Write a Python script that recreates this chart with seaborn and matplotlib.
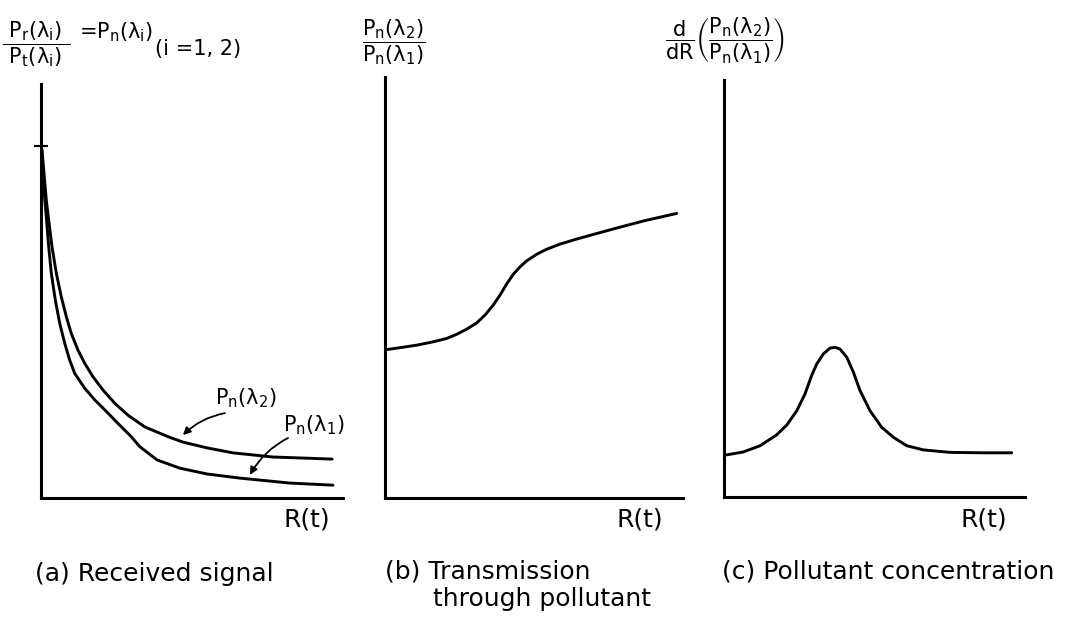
import numpy as np
import matplotlib
matplotlib.use("Agg")
import matplotlib.pyplot as plt
import seaborn as sns

# ==========================================
# DATA (axis units 0..100)
# ==========================================
# (a) received signal
a_x_l2 = [0, 0.33, 0.99, 1.75, 2.55, 3.64, 5.07, 6.72, 8.38, 10.0, 12.25, 14.5, 17.2, 20.5, 24.4, 28.8,
          34.3, 42.1, 47.0, 55.0, 63.6, 76.8, 96.4]
a_y_l2 = [85.0, 84.1, 78.4, 72.0, 67.1, 60.7, 54.3, 48.6, 43.8, 39.8, 35.7, 32.5, 29.3, 26.1, 22.9, 20.0,
          17.2, 14.8, 13.5, 12.1, 10.9, 9.9, 9.4]
a_x_l1 = [0, 0.33, 0.99, 1.75, 2.55, 3.41, 4.74, 6.19, 7.85, 9.5, 11.16, 12.25, 14.5, 17.8, 21.1, 25.5,
          29.9, 32.7, 38.4, 46.0, 55.0, 65.9, 82.5, 96.7]
a_y_l1 = [85.0, 83.3, 74.4, 67.9, 60.7, 54.3, 47.8, 42.2, 37.4, 33.3, 30.1, 28.9, 26.5, 23.7, 21.3, 18.0,
          14.8, 12.4, 9.2, 7.2, 5.8, 4.8, 3.6, 3.1]

# (b) transmission through pollutant
b_x = [0, 5.0, 10.6, 16.2, 20.7, 24.1, 27.4, 30.8, 33.6, 36.3, 38.6, 40.8, 43.0, 45.3, 47.5, 50.9,
       54.3, 58.7, 64.3, 69.9, 76.6, 86.7, 97.9]
b_y = [35.2, 35.7, 36.3, 37.1, 37.9, 38.9, 40.1, 41.6, 43.5, 45.8, 48.2, 50.8, 53.1, 54.9, 56.3, 57.9,
       59.1, 60.3, 61.5, 62.6, 63.9, 65.8, 67.6]

# (c) pollutant concentration
c_x = [0.9, 6.4, 12.0, 17.5, 20.9, 24.2, 26.9, 29.1, 30.8, 33.0, 35.2, 36.9, 38.5, 40.8, 43.0, 45.2,
       48.5, 52.4, 56.3, 60.7, 66.2, 75.1, 86.1, 95.6]
c_y = [10.1, 10.8, 12.3, 14.9, 17.3, 20.7, 24.7, 29.1, 31.9, 34.3, 35.7, 35.9, 35.5, 33.5, 29.9, 25.5,
       20.7, 16.7, 14.3, 12.3, 11.3, 10.7, 10.6, 10.6]

captions = ["(a) Received signal", "(b) Transmission\n      through pollutant", "(c) Pollutant concentration"]

# ==========================================
# FIGURE
# ==========================================
sns.set_style("white")
plt.rcParams['font.family'] = ['DejaVu Sans']
plt.rcParams['text.color'] = 'black'
plt.rcParams['mathtext.fontset'] = 'dejavusans'
plt.rcParams['mathtext.default'] = 'regular'

W, H = 1075, 624
fig = plt.figure(figsize=(W / 100, H / 100), dpi=100)


def px_axes(left, right, top, bottom):
    return fig.add_axes([left / W, (H - bottom) / H, (right - left) / W, (bottom - top) / H])


def fx(x):
    return x / W


def fy(y):
    return 1 - y / H


ax_a = px_axes(41, 343, 84, 498)
ax_b = px_axes(385, 683, 77, 498)
ax_c = px_axes(724, 1025, 80, 497)

line_kw = dict(color="black", linewidth=2.1, estimator=None, sort=False)
sns.lineplot(x=a_x_l2, y=a_y_l2, ax=ax_a, **line_kw)
sns.lineplot(x=a_x_l1, y=a_y_l1, ax=ax_a, **line_kw)
sns.lineplot(x=b_x, y=b_y, ax=ax_b, **line_kw)
sns.lineplot(x=c_x, y=c_y, ax=ax_c, **line_kw)

for ax in (ax_a, ax_b, ax_c):
    ax.set_xlim(0, 100)
    ax.set_ylim(0, 100)
    ax.set_xticks([])
    ax.set_yticks([])
    ax.set_xlabel("")
    ax.set_ylabel("")
    ax.patch.set_alpha(0)
    sns.despine(ax=ax)
    for s in ("left", "bottom"):
        ax.spines[s].set_linewidth(2.2)
        ax.spines[s].set_color("black")

# start mark on the (a) axis
ax_a.set_yticks([a_y_l2[0]])
ax_a.set_yticklabels([])
ax_a.tick_params(axis="y", direction="inout", length=10, width=1.5, color="black", left=True)

# curve labels with arrows in (a)
arrow_kw = dict(arrowstyle="-|>", color="black", lw=1.3, mutation_scale=11, shrinkA=0, shrinkB=0,
                connectionstyle="arc3,rad=0.15")
ax_a.annotate("", xy=(47.0, 15.2), xytext=(60.9, 20.5), arrowprops=arrow_kw)
ax_a.annotate("", xy=(69.2, 5.6), xytext=(81.8, 14.5), arrowprops=arrow_kw)
ax_a.text(67.9, 24.2, r"$P_n(\lambda_2)$", ha="center", va="center", fontsize=15)
ax_a.text(90.4, 17.6, r"$P_n(\lambda_1)$", ha="center", va="center", fontsize=15)

# axis titles at the top
fig.text(fx(2), fy(44), r"$\dfrac{\ P_r(\lambda_i)\ }{\ P_t(\lambda_i)\ }$", ha="left", va="center", fontsize=15)
fig.text(fx(79), fy(32), r"=$P_n(\lambda_i)$", ha="left", va="center", fontsize=15)
fig.text(fx(155), fy(49), "(i =1, 2)", ha="left", va="center", fontsize=15)
fig.text(fx(362), fy(42), r"$\dfrac{P_n(\lambda_2)}{P_n(\lambda_1)}$", ha="left", va="center", fontsize=15)
fig.text(fx(665), fy(40), r"$\dfrac{d}{dR}\left(\dfrac{P_n(\lambda_2)}{P_n(\lambda_1)}\right)$",
         ha="left", va="center", fontsize=15)

# R(t) labels
for xc in (307, 640, 984):
    fig.text(fx(xc), fy(519), "R(t)", ha="center", va="center", fontsize=18)

# captions
fig.text(fx(35), fy(574), captions[0], ha="left", va="center", fontsize=18)
fig.text(fx(385), fy(585), captions[1], ha="left", va="center", fontsize=18, linespacing=1.2)
fig.text(fx(722), fy(571), captions[2], ha="left", va="center", fontsize=18)

fig.savefig("out.png", dpi=100, facecolor="white")
